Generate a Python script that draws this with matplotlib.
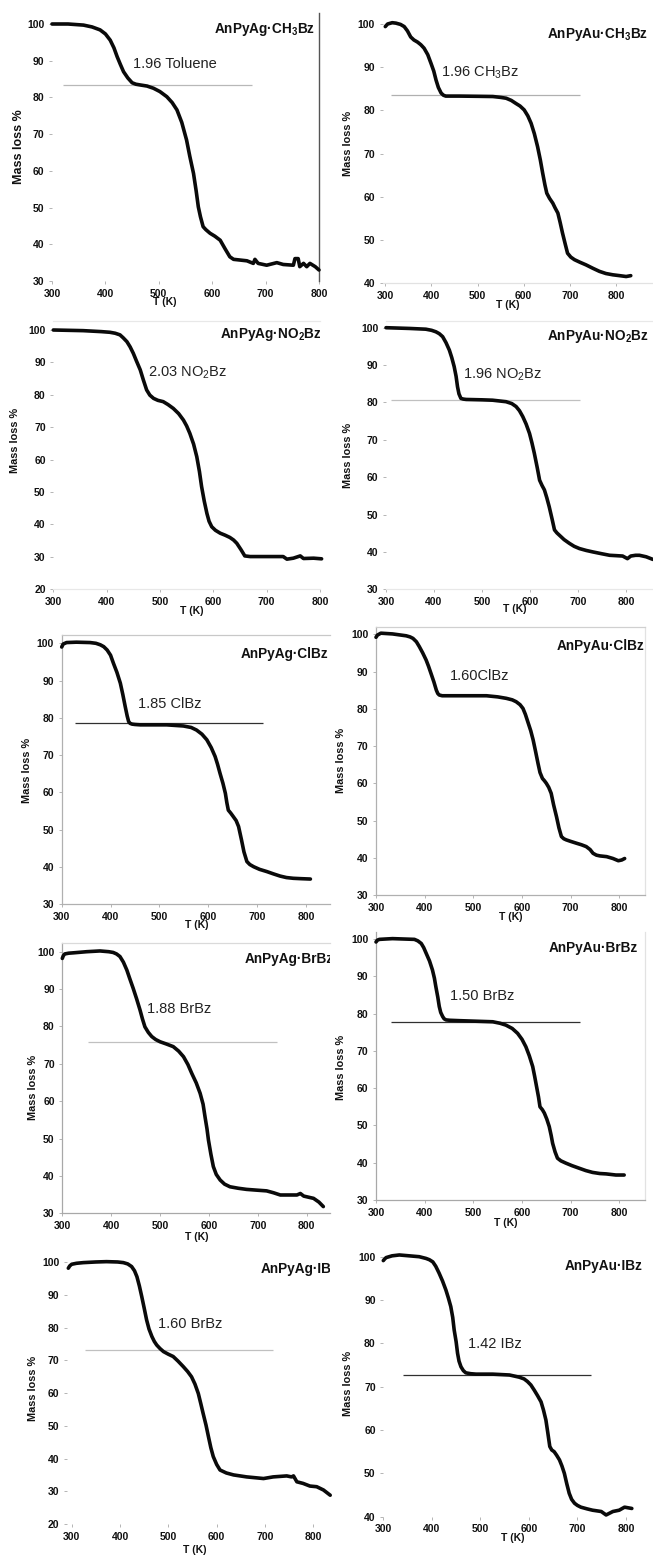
import matplotlib
matplotlib.use("Agg")
import matplotlib.pyplot as plt

plt.rcParams['font.family'] = ['Liberation Sans', 'DejaVu Sans']
plt.rcParams['mathtext.fontset'] = 'custom'
plt.rcParams['mathtext.rm'] = 'Liberation Sans'
plt.rcParams['mathtext.it'] = 'Liberation Sans:italic'
plt.rcParams['mathtext.bf'] = 'Liberation Sans:bold'

# ---- TGA curves: temperature (K) and remaining mass (%) ----
T_ag_ch3 = [300, 330, 359, 375, 390, 400, 409, 416, 422, 428, 434, 442, 450, 457, 465, 478, 490, 502, 515, 525,
            534, 543, 552, 558, 565, 570, 574, 578, 583, 588, 596, 605, 615, 624, 633, 640, 665, 677, 680, 686,
            702, 721, 733, 752, 755, 761, 764, 771, 777, 783, 793, 800]
M_ag_ch3 = [100, 100, 99.7, 99.2, 98.4, 97.3, 95.6, 93.5, 91.1, 89, 87, 85.3, 84, 83.6, 83.4, 83.1, 82.5, 81.6, 80.2, 78.6,
            76.6, 73.2, 68.4, 64, 59.3, 54.5, 50.2, 47.5, 44.8, 44, 43, 42.2, 41.1, 38.8, 36.6, 35.9, 35.5, 34.8, 35.9, 34.8,
            34.3, 35, 34.5, 34.3, 36.1, 36.1, 33.9, 34.8, 33.9, 34.8, 33.9, 33]

T_au_ch3 = [300, 305, 315, 323, 333, 341, 348, 355, 362, 370, 377, 384, 392, 399, 405, 410, 415, 421, 426, 431,
            440, 460, 500, 533, 550, 562, 573, 583, 592, 601, 609, 616, 623, 630, 636, 641, 646, 650, 656, 663,
            668, 674, 679, 684, 690, 695, 702, 710, 722, 735, 750, 764, 778, 793, 808, 822, 832]
M_au_ch3 = [99.4, 100, 100.3, 100.2, 99.9, 99.4, 98.4, 97, 96.3, 95.8, 95.2, 94.4, 92.9, 90.9, 89.1, 87, 85.3, 84, 83.5, 83.3,
            83.3, 83.3, 83.25, 83.2, 83.0, 82.8, 82.3, 81.6, 81.0, 80.1, 78.7, 77, 74.6, 71.6, 68.5, 65.5, 62.7, 60.8, 59.6, 58.5,
            57.4, 56.2, 54.0, 51.6, 49.0, 46.9, 46.0, 45.4, 44.8, 44.2, 43.4, 42.7, 42.2, 41.9, 41.7, 41.5, 41.7]

T_ag_no2 = [300, 356, 390, 406, 416, 425, 431, 438, 444, 450, 456, 463, 469, 475, 481, 488, 496, 506, 515, 525,
            535, 544, 550, 556, 563, 569, 574, 578, 583, 588, 592, 597, 604, 613, 622, 631, 638, 644, 652, 659,
            669, 700, 731, 738, 750, 763, 769, 788, 803]
M_ag_no2 = [100, 99.8, 99.5, 99.3, 99.0, 98.5, 97.6, 96.4, 94.8, 92.8, 90.4, 87.7, 84.5, 81.5, 79.9, 78.9, 78.3, 77.9, 77.0, 75.8,
            74.2, 72.2, 70.4, 68.1, 64.8, 60.9, 56.3, 51.7, 47.2, 43.4, 41.0, 39.3, 38.2, 37.3, 36.7, 36, 35.2, 34.2, 32.2, 30.3,
            30.1, 30.1, 30.1, 29.3, 29.6, 30.3, 29.5, 29.6, 29.4]

T_au_no2 = [300, 349, 383, 395, 404, 411, 418, 425, 432, 437, 442, 446, 449, 452, 456, 461, 467, 500, 522, 550,
            562, 571, 578, 585, 592, 599, 604, 609, 615, 620, 625, 630, 635, 640, 646, 651, 656, 661, 671, 682,
            692, 703, 717, 731, 750, 766, 780, 793, 803, 810, 820, 828, 842, 856]
M_au_no2 = [100, 99.8, 99.6, 99.3, 98.9, 98.4, 97.6, 96.0, 94, 92.0, 89.6, 87.0, 84.2, 82.3, 81.1, 80.9, 80.8, 80.7, 80.6, 80.2,
            79.7, 78.9, 77.8, 76.2, 74.2, 71.7, 69.2, 66.4, 62.6, 59.2, 57.8, 56.6, 54.5, 52.1, 48.8, 45.9, 45.1, 44.5, 43.3, 42.3,
            41.5, 40.9, 40.4, 40, 39.5, 39.1, 39.0, 38.9, 38.2, 38.9, 39.1, 39.1, 38.7, 38]

T_ag_cl = [300, 303, 310, 330, 358, 370, 379, 386, 393, 400, 406, 413, 420, 425, 430, 434, 437, 440, 444, 450,
           461, 515, 549, 565, 576, 587, 597, 606, 614, 619, 624, 630, 635, 638, 641, 646, 651, 657, 662, 668,
           673, 679, 685, 693, 705, 720, 733, 747, 760, 774, 790, 809]
M_ag_cl = [99.0, 99.8, 100.2, 100.3, 100.2, 100.0, 99.6, 99.1, 98.2, 96.8, 94.6, 92.2, 89.3, 86.3, 83, 80.5, 79, 78.5, 78.3, 78.2,
           78.1, 78.1, 77.8, 77.4, 76.7, 75.6, 74.1, 72.0, 69.6, 67.5, 65.1, 62.4, 59.7, 57.2, 55.2, 54.4, 53.5, 52.4, 50.8, 47.2,
           44.0, 41.4, 40.6, 40, 39.3, 38.7, 38.1, 37.5, 37.1, 36.9, 36.8, 36.7]

T_au_cl = [300, 303, 310, 334, 362, 370, 376, 383, 389, 396, 403, 408, 413, 419, 424, 427, 430, 436, 451, 527,
           550, 568, 580, 588, 596, 602, 607, 612, 618, 623, 628, 633, 637, 642, 646, 650, 655, 660, 665, 671,
           676, 681, 686, 691, 700, 712, 722, 732, 740, 746, 753, 760, 774, 787, 798, 805, 811]
M_au_cl = [99.2, 99.8, 100.3, 100.1, 99.6, 99.3, 98.9, 98.0, 96.7, 95.0, 93.1, 91.4, 89.5, 87.2, 85, 84.1, 83.7, 83.5, 83.5, 83.5,
           83.2, 82.8, 82.4, 81.9, 81.1, 80.1, 78.5, 76.5, 74.1, 71.6, 68.5, 65.3, 62.9, 61.3, 60.7, 60, 58.9, 57.3, 54.2, 51,
           48.0, 45.7, 45.1, 44.8, 44.4, 43.9, 43.5, 43, 42.2, 41.2, 40.7, 40.5, 40.3, 39.8, 39.2, 39.4, 39.8]

T_ag_br = [300, 302, 305, 313, 323, 350, 377, 395, 404, 411, 418, 425, 432, 438, 445, 452, 459, 464, 469, 476,
           483, 491, 500, 513, 527, 538, 548, 557, 565, 574, 582, 588, 592, 596, 599, 604, 609, 615, 623, 632,
           643, 660, 677, 697, 718, 732, 746, 767, 780, 787, 794, 804, 814, 825, 834]
M_ag_br = [98.2, 98.9, 99.4, 99.6, 99.7, 100.0, 100.2, 100.0, 99.8, 99.4, 98.7, 97.2, 95.1, 92.8, 90.2, 87.4, 84.4, 82.0, 79.9, 78.4,
           77.3, 76.5, 75.9, 75.3, 74.6, 73.4, 71.9, 69.8, 67.4, 64.9, 62.1, 59.2, 55.8, 52.6, 49.6, 45.8, 42.5, 40.4, 38.9, 37.8,
           37.1, 36.7, 36.4, 36.2, 36, 35.5, 34.9, 34.9, 34.9, 35.3, 34.6, 34.3, 34, 33.0, 31.8]

T_au_br = [300, 303, 307, 320, 334, 379, 386, 393, 398, 403, 410, 416, 420, 423, 427, 430, 433, 437, 440, 444,
           452, 471, 540, 555, 567, 580, 591, 600, 608, 615, 622, 626, 630, 634, 637, 642, 646, 651, 656, 660,
           663, 668, 673, 680, 690, 703, 718, 731, 745, 760, 773, 793, 810]
M_au_br = [99.2, 99.7, 99.9, 100.0, 100.1, 99.9, 99.5, 98.8, 97.7, 96.2, 94.1, 91.7, 89.5, 87.2, 84.4, 81.9, 80.3, 79.2, 78.6, 78.3,
           78.2, 78.1, 77.8, 77.4, 76.9, 76.0, 74.7, 73.1, 71.1, 68.7, 65.8, 63.2, 60.4, 57.6, 55, 54.2, 53.3, 51.7, 49.7, 47.3,
           45.2, 42.9, 41.2, 40.5, 39.9, 39.2, 38.5, 37.9, 37.4, 37.1, 37, 36.7, 36.7]

T_ag_i = [293, 296, 300, 310, 324, 350, 372, 395, 407, 416, 424, 430, 435, 440, 445, 450, 455, 460, 466, 471,
          476, 483, 490, 500, 510, 520, 531, 540, 548, 555, 562, 567, 572, 578, 583, 588, 593, 600, 607, 620,
          635, 662, 697, 717, 745, 755, 759, 766, 779, 793, 807, 821, 835]
M_ag_i = [98.2, 98.9, 99.4, 99.7, 99.9, 100.1, 100.2, 100.1, 99.9, 99.5, 98.7, 97.4, 95.6, 92.8, 89.5, 86.0, 82.4, 79.6, 77.3, 75.8,
          74.7, 73.6, 72.7, 71.9, 71.2, 69.8, 68.1, 66.6, 65, 62.8, 59.9, 56.9, 53.8, 50.2, 46.7, 43.3, 40.6, 38.2, 36.5, 35.6,
          35, 34.4, 33.9, 34.4, 34.7, 34.4, 34.7, 32.9, 32.4, 31.6, 31.4, 30.4, 28.8]

T_au_i = [300, 303, 306, 318, 333, 374, 388, 395, 402, 408, 415, 422, 429, 434, 439, 443, 446, 450, 453, 456,
          460, 465, 470, 480, 491, 525, 560, 580, 590, 597, 604, 611, 618, 625, 630, 635, 639, 643, 647, 652,
          657, 663, 668, 673, 678, 683, 688, 694, 700, 707, 720, 731, 749, 759, 766, 773, 786, 797, 812]
M_au_i = [99.1, 99.5, 99.8, 100.2, 100.4, 100, 99.6, 99.3, 98.8, 97.8, 96.2, 94.4, 92.3, 90.5, 88.5, 86.0, 83.1, 80.4, 77.7, 75.9,
          74.6, 73.7, 73.2, 73.0, 72.9, 72.9, 72.7, 72.2, 71.8, 71.2, 70.4, 69.2, 67.9, 66.5, 64.6, 62.3, 59.3, 56.2, 55.4, 55,
          54.2, 53.1, 51.7, 50, 47.6, 45.4, 44.0, 43.1, 42.6, 42.2, 41.8, 41.5, 41.2, 40.4, 40.8, 41.2, 41.5, 42.2, 41.9]

titles = [r"AnPyAg·CH$_\mathbf{3}$Bz", r"AnPyAu·CH$_\mathbf{3}$Bz",
          r"AnPyAg·NO$_\mathbf{2}$Bz", r"AnPyAu·NO$_\mathbf{2}$Bz",
          "AnPyAg·ClBz", "AnPyAu·ClBz",
          "AnPyAg·BrBz", "AnPyAu·BrBz",
          "AnPyAg·IBz", "AnPyAu·IBz"]
notes = ["1.96 Toluene", r"1.96 CH$_3$Bz", r"2.03 NO$_2$Bz", r"1.96 NO$_2$Bz", "1.85 ClBz",
         "1.60ClBz", "1.88 BrBz", "1.50 BrBz", "1.60 BrBz", "1.42 IBz"]
# first-step plateau level (%) and its temperature span (K); None where not drawn
plateau_level = [83.4, 83.6, None, 80.6, 78.5, None, 75.9, 77.8, 73.2, 72.8]
plateau_span = [(321, 674), (312, 722), None, (310, 704), (327, 713), None, (353, 739), (331, 719), (328, 717), (340, 728)]

series = [(T_ag_ch3, M_ag_ch3), (T_au_ch3, M_au_ch3), (T_ag_no2, M_ag_no2), (T_au_no2, M_au_no2),
          (T_ag_cl, M_ag_cl), (T_au_cl, M_au_cl), (T_ag_br, M_ag_br), (T_au_br, M_au_br),
          (T_ag_i, M_ag_i), (T_au_i, M_au_i)]

# ---- layout (pixels) ----
W, H = 653, 1556
fig = plt.figure(figsize=(W / 100, H / 100), dpi=100)

# pixel of 300 K, pixel of 800 K, pixel of 100 %, pixel of y-min, y-min, xlim, y-top
layout = [
    (52.0, 319.0, 24.0, 281.0, 30, (300, 800), 103.0),
    (385.3, 616.0, 24.0, 283.0, 40, (294, 879), 102.0),
    (53.3, 320.0, 330.0, 589.3, 20, (300, 800), 102.9),
    (386.0, 626.0, 327.7, 589.3, 30, (300, 856), 101.9),
    (61.7, 306.0, 643.3, 904.0, 30, (300, 849), 102.2),
    (376.0, 619.3, 634.3, 895.0, 30, (300, 853), 102.0),
    (62.3, 306.7, 951.7, 1213.3, 30, (300, 848), 102.2),
    (376.0, 619.3, 939.0, 1200.0, 30, (300, 853), 102.0),
    (71.7, 313.3, 1262.3, 1524.0, 20, (290, 835), 102.0),
    (383.3, 626.0, 1256.7, 1516.7, 40, (300, 855), 102.0),
]
frames = [
    {'right': '#555555'},
    {'bottom': '#e2e2e2'},
    {'top': '#e8e8e8', 'bottom': '#e8e8e8'},
    {'top': '#e8e8e8', 'bottom': '#e8e8e8'},
    {'left': '#b0b0b0', 'top': '#c8c8c8', 'bottom': '#b0b0b0'},
    {'left': '#b0b0b0', 'top': '#d0d0d0', 'bottom': '#b0b0b0', 'right': '#e2e2e2'},
    {'left': '#a8a8a8', 'top': '#dadada', 'bottom': '#a8a8a8'},
    {'left': '#a8a8a8', 'bottom': '#a8a8a8', 'right': '#e2e2e2'},
    {},
    {},
]
plateau_color = ['#b8b8b8', '#b0b0b0', None, '#c0c0c0', '#303030', None, '#c0c0c0', '#303030', '#c0c0c0', '#303030']
# title: right edge x, baseline y (px)
title_pos = [(315, 33), (648, 38), (322, 338), (649, 340), (328, 658),
             (644, 650), (334, 963), (638, 952), (338, 1273), (643, 1270)]
note_pos = [(452, 88.0), (421, 87.8), (478, 85.6), (460, 86.5), (456, 82.6),
            (451, 87.8), (473, 83.5), (453, 83.6), (479, 79.8), (474, 79.0)]
ylabel_pos = [(19, 147), (348, 143), (15, 440), (348, 455), (27, 770),
              (341, 760), (33, 1087), (341, 1067), (33, 1388), (348, 1383)]
ylabel_size = [9, 7.8, 7.8, 7.8, 7.8, 7.8, 7.8, 7.8, 7.8, 7.8]
xlabel_pos = [(165, 302), (508, 305), (192, 611), (515, 609), (197, 925),
              (511, 917), (197, 1237), (506, 1223), (195, 1550), (513, 1538)]


def fx(x):
    return x / W


def fy(y):
    return 1 - y / H


for i, ((T, M), lay) in enumerate(zip(series, layout)):
    p300, p800, p100, pmin, ymin, xlim, ytop = lay
    sx = (p800 - p300) / 500.0
    sy = (pmin - p100) / (100.0 - ymin)
    left = p300 + (xlim[0] - 300) * sx
    right = p300 + (xlim[1] - 300) * sx
    top = p100 - (ytop - 100) * sy
    bottom = pmin
    ax = fig.add_axes([fx(left), fy(bottom), (right - left) / W, (bottom - top) / H])
    ax.set_xlim(*xlim)
    ax.set_ylim(ymin, ytop)

    for name, sp in ax.spines.items():
        if name in frames[i]:
            sp.set_color(frames[i][name])
            sp.set_linewidth(1.0 if name == 'right' and i == 0 else 0.9)
        else:
            sp.set_visible(False)

    ax.set_xticks(range(300, 801, 100))
    ax.set_yticks(range(ymin, 101, 10))
    ax.tick_params(axis='both', direction='out', length=2.5, width=0.6, color='#a8a8a8',
                   labelsize=7.5, labelcolor='#111111', pad=3)
    for lab in ax.get_xticklabels() + ax.get_yticklabels():
        lab.set_fontweight('bold')

    ax.plot(T, M, color='#0a0a0a', lw=2.6, solid_joinstyle='round', solid_capstyle='round', clip_on=False, zorder=3)

    if plateau_level[i] is not None:
        x0, x1 = plateau_span[i]
        ax.hlines(plateau_level[i], x0, x1, color=plateau_color[i], lw=0.9, zorder=2)

    nx, ny = note_pos[i]
    ax.text(nx, ny, notes[i], fontsize=10.5, color='#222222', ha='left', va='baseline')

    tx, ty = title_pos[i]
    ax.text(fx(tx), fy(ty), titles[i], transform=fig.transFigure, fontsize=9.8, fontweight='bold',
            color='#111111', ha='right', va='baseline', clip_on=True)

    lx, ly = ylabel_pos[i]
    fig.text(fx(lx), fy(ly), "Mass loss %", rotation=90, fontsize=ylabel_size[i], fontweight='bold',
             color='#111111', ha='center', va='center')
    kx, ky = xlabel_pos[i]
    fig.text(fx(kx), fy(ky), "T (K)", fontsize=7.5, fontweight='bold', color='#111111',
             ha='center', va='center')

fig.savefig("out.png", dpi=100, facecolor='white')
